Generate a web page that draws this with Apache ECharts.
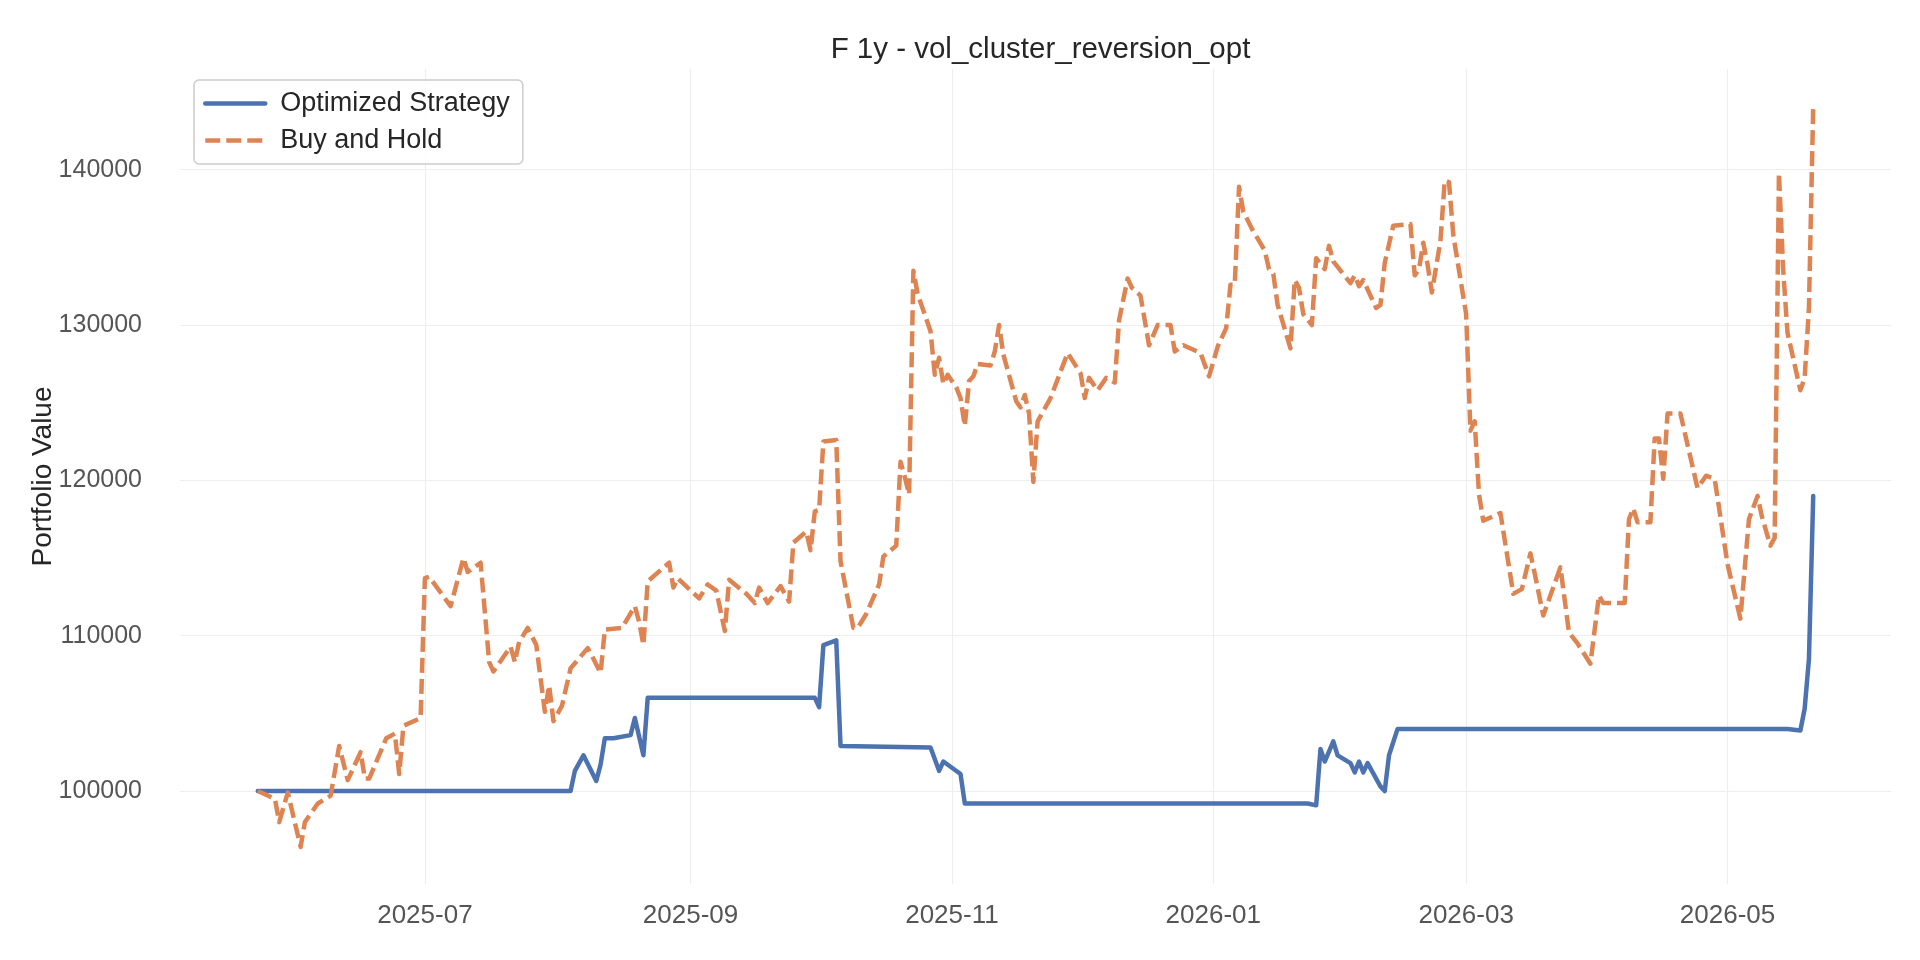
<!DOCTYPE html>
<html>
<head>
<meta charset="utf-8">
<script src="https://cdn.jsdelivr.net/npm/echarts@6/dist/echarts.min.js"></script>
<style>
html, body { margin: 0; background: #fff; }
#chart { width: 1920px; height: 960px; }
</style>
</head>
<body>
<div id="chart"></div>
<script>
// Buy and Hold portfolio value
var bhDates = [
  '2025-05-23', '2025-05-27', '2025-05-28', '2025-05-30', '2025-06-02', '2025-06-03', '2025-06-05', '2025-06-06', '2025-06-09', '2025-06-11',
  '2025-06-13', '2025-06-16', '2025-06-17', '2025-06-18', '2025-06-22', '2025-06-24', '2025-06-25', '2025-06-26', '2025-06-30',
  '2025-07-01', '2025-07-02', '2025-07-07', '2025-07-10', '2025-07-11', '2025-07-14', '2025-07-16', '2025-07-17', '2025-07-21', '2025-07-22',
  '2025-07-23', '2025-07-25', '2025-07-27', '2025-07-29', '2025-07-30', '2025-07-31',
  '2025-08-02', '2025-08-04', '2025-08-08', '2025-08-09', '2025-08-11', '2025-08-12', '2025-08-16', '2025-08-19', '2025-08-20', '2025-08-21',
  '2025-08-22', '2025-08-27', '2025-08-28', '2025-08-29',
  '2025-09-03', '2025-09-05', '2025-09-07', '2025-09-09', '2025-09-10', '2025-09-14', '2025-09-16', '2025-09-17', '2025-09-19', '2025-09-22',
  '2025-09-24', '2025-09-25', '2025-09-28', '2025-09-29', '2025-09-30',
  '2025-10-01', '2025-10-02', '2025-10-05', '2025-10-06', '2025-10-09', '2025-10-10', '2025-10-12', '2025-10-15', '2025-10-16', '2025-10-19',
  '2025-10-20', '2025-10-21', '2025-10-22', '2025-10-23', '2025-10-24', '2025-10-27', '2025-10-28', '2025-10-29', '2025-10-30', '2025-10-31',
  '2025-11-02', '2025-11-03', '2025-11-04', '2025-11-05', '2025-11-06', '2025-11-07', '2025-11-10', '2025-11-11', '2025-11-12', '2025-11-13',
  '2025-11-16', '2025-11-17', '2025-11-18', '2025-11-19', '2025-11-20', '2025-11-21', '2025-11-22', '2025-11-24', '2025-11-28',
  '2025-12-01', '2025-12-02', '2025-12-03', '2025-12-05', '2025-12-07', '2025-12-09', '2025-12-10', '2025-12-12', '2025-12-13', '2025-12-15',
  '2025-12-17', '2025-12-19', '2025-12-22', '2025-12-23', '2025-12-25', '2025-12-29', '2025-12-31',
  '2026-01-02', '2026-01-04', '2026-01-05', '2026-01-06', '2026-01-07', '2026-01-08', '2026-01-10', '2026-01-13', '2026-01-14', '2026-01-15',
  '2026-01-16', '2026-01-19', '2026-01-20', '2026-01-21', '2026-01-22', '2026-01-24', '2026-01-25', '2026-01-27', '2026-01-28', '2026-01-29',
  '2026-02-02', '2026-02-03', '2026-02-04', '2026-02-05', '2026-02-08', '2026-02-09', '2026-02-10', '2026-02-12', '2026-02-16', '2026-02-17',
  '2026-02-18', '2026-02-19', '2026-02-20', '2026-02-21', '2026-02-23', '2026-02-24', '2026-02-25', '2026-02-26',
  '2026-03-01', '2026-03-02', '2026-03-03', '2026-03-04', '2026-03-05', '2026-03-09', '2026-03-12', '2026-03-14', '2026-03-16', '2026-03-17',
  '2026-03-19', '2026-03-23', '2026-03-25', '2026-03-27', '2026-03-30',
  '2026-04-01', '2026-04-02', '2026-04-07', '2026-04-08', '2026-04-09', '2026-04-10', '2026-04-13', '2026-04-14', '2026-04-15', '2026-04-16',
  '2026-04-17', '2026-04-20', '2026-04-24', '2026-04-26', '2026-04-28',
  '2026-05-01', '2026-05-04', '2026-05-06', '2026-05-08', '2026-05-09', '2026-05-11', '2026-05-12', '2026-05-13', '2026-05-14', '2026-05-15',
  '2026-05-18', '2026-05-19', '2026-05-20', '2026-05-21'
];
var bhValues = [
  100000, 99500, 98000, 99900, 96400, 98000, 98800, 99200, 99700, 102900,
  100700, 102500, 100800, 100800, 103400, 103700, 101100, 104200, 104700,
  113700, 113800, 111900, 115000, 114100, 114700, 108300, 107700, 109300, 108300,
  109600, 110500, 109400, 105100, 106800, 104500,
  105500, 107900, 109200, 108700, 107600, 110400, 110500, 111900, 110900, 109400,
  113500, 114700, 113100, 113700,
  112400, 113300, 112900, 110300, 113600, 112700, 112100, 113100, 112100, 113200,
  112200, 116000, 116700, 115500, 118000,
  118100, 122500, 122600, 114800, 110500, 110500, 111400, 113300, 115100, 115800,
  121200, 120200, 119100, 133500, 132000, 129600, 126800, 127900, 126200, 126800,
  126000, 125300, 123500, 126400, 126700, 127500, 127400, 128300, 130000, 128100,
  125100, 124700, 125500, 124300, 119900, 123800, 124300, 125300, 128200,
  126900, 125300, 126600, 125800, 126600, 126300, 130300, 133000, 132400, 131900,
  128700, 130000, 130000, 128300, 128700, 128200, 126700,
  128600, 129800, 132600, 132600, 138900, 137300, 136200, 134800, 133600, 133300,
  131300, 128500, 132900, 132400, 130700, 130000, 134300, 133600, 135100, 134100,
  132700, 133200, 132500, 132900, 131100, 131300, 134000, 136400, 136500, 133200,
  133600, 135300, 133900, 132100, 135400, 139300, 139200, 135800,
  130700, 123200, 123800, 119100, 117400, 117900, 112700, 113000, 115300, 114000,
  111300, 114400, 110200, 109500, 108200,
  112600, 112100, 112100, 117500, 118200, 117300, 117300, 122700, 122700, 120100,
  124300, 124300, 119500, 120300, 120100,
  114600, 111100, 117500, 119000, 117700, 115800, 116300, 139800, 133500, 129500,
  125800, 126600, 131100, 144100
];

// Optimized Strategy portfolio value (turning points of a mostly flat curve)
var stratDates = [
  '2025-05-23', '2025-08-04', '2025-08-05', '2025-08-07', '2025-08-10', '2025-08-11', '2025-08-12', '2025-08-14', '2025-08-18', '2025-08-19',
  '2025-08-21', '2025-08-22', '2025-09-30', '2025-10-01', '2025-10-02', '2025-10-05', '2025-10-06', '2025-10-27', '2025-10-29', '2025-10-30',
  '2025-11-03', '2025-11-04', '2026-01-23', '2026-01-25', '2026-01-26', '2026-01-27', '2026-01-29', '2026-01-30', '2026-02-02', '2026-02-03',
  '2026-02-04', '2026-02-05', '2026-02-06', '2026-02-09', '2026-02-10', '2026-02-11', '2026-02-13', '2026-05-15', '2026-05-18', '2026-05-19',
  '2026-05-20', '2026-05-21'
];
var stratValues = [
  100000, 100000, 101300, 102300, 100650, 101700, 103400, 103400, 103600, 104700,
  102300, 106000, 106000, 105400, 109400, 109700, 102900, 102800, 101300, 101900,
  101100, 99200, 99200, 99080, 102700, 101900, 103200, 102300, 101800, 101200,
  101900, 101200, 101800, 100300, 100000, 102300, 104000, 104000, 103900, 105300,
  108500, 119000
];

var titleText = 'F 1y - vol_cluster_reversion_opt';
var seriesNames = ['Optimized Strategy', 'Buy and Hold'];

function pairs(dates, values) {
    return dates.map(function (d, i) { return [d, values[i]]; });
}

// matplotlib style 5% margins around the data
var t0 = +new Date(bhDates[0]);
var t1 = +new Date(bhDates[bhDates.length - 1]);
var xPad = (t1 - t0) * 0.05;
var allValues = bhValues.concat(stratValues);
var vMin = Math.min.apply(null, allValues);
var vMax = Math.max.apply(null, allValues);
var yPad = (vMax - vMin) * 0.05;

var gridLeft = 180, gridRight = 29;
var myChart = echarts.init(document.getElementById('chart'));
var gridColor = '#eeeeee';
var font = '"Liberation Sans", Arial, sans-serif';

var option = {
    animation: false,
    backgroundColor: '#fff',
    textStyle: { fontFamily: font },
    title: {
        text: titleText,
        // centred over the plot area, not the canvas
        left: gridLeft + (1920 - gridLeft - gridRight) / 2,
        textAlign: 'center',
        top: 30,
        textStyle: { fontSize: 29.5, fontWeight: 'normal', color: '#262626', fontFamily: font }
    },
    legend: {
        orient: 'vertical',
        left: 194,
        top: 80,
        padding: [10, 13, 10, 9],
        itemGap: 10,
        itemWidth: 60,
        itemHeight: 16,
        borderColor: '#cccccc',
        borderWidth: 1.5,
        borderRadius: 5,
        backgroundColor: 'rgba(255,255,255,0.8)',
        itemStyle: { opacity: 0 },
        lineStyle: { width: 4.5 },
        textStyle: { fontSize: 27, color: '#262626', fontFamily: font, padding: [0, 0, 0, 10] },
        data: seriesNames
    },
    grid: { left: gridLeft, right: gridRight, top: 69, bottom: 76 },
    xAxis: {
        type: 'time',
        min: t0 - xPad,
        max: t1 + xPad,
        axisLine: { show: false },
        axisTick: { show: false },
        splitLine: { show: true, showMinLine: false, showMaxLine: false, lineStyle: { color: gridColor, width: 1.2 } },
        axisLabel: {
            formatter: '{yyyy}-{MM}',
            fontSize: 26,
            color: '#555',
            margin: 19,
            showMinLabel: false,
            showMaxLabel: false,
            fontFamily: font
        }
    },
    yAxis: {
        type: 'value',
        min: vMin - yPad,
        max: vMax + yPad,
        name: 'Portfolio Value',
        nameLocation: 'middle',
        nameGap: 123,
        nameMoveOverlap: false,
        nameTextStyle: { fontSize: 28, color: '#262626', fontFamily: font },
        axisLine: { show: false },
        axisTick: { show: false },
        splitLine: { show: true, showMinLine: false, showMaxLine: false, lineStyle: { color: gridColor, width: 1.2 } },
        axisLabel: {
            formatter: function (v) { return String(Math.round(v)); },
            fontSize: 25,
            color: '#555',
            margin: 38,
            showMinLabel: false,
            showMaxLabel: false,
            fontFamily: font
        }
    },
    series: [
        {
            name: seriesNames[0],
            type: 'line',
            symbol: 'none',
            data: pairs(stratDates, stratValues),
            lineStyle: { color: '#4c72b0', width: 4.5, cap: 'round', join: 'round' },
            itemStyle: { color: '#4c72b0' }
        },
        {
            name: seriesNames[1],
            type: 'line',
            symbol: 'none',
            data: pairs(bhDates, bhValues),
            lineStyle: { color: '#dd8452', width: 4.5, type: [15, 6], join: 'round' },
            itemStyle: { color: '#dd8452' }
        }
    ]
};
myChart.setOption(option);
</script>
</body>
</html>
